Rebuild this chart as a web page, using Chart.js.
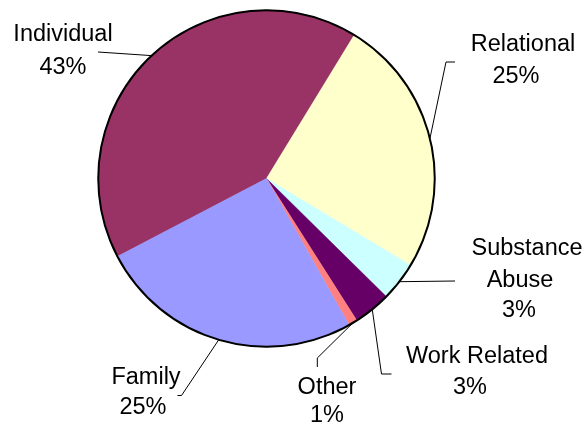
<!DOCTYPE html>
<html>
<head>
<meta charset="utf-8">
<script src="https://cdn.jsdelivr.net/npm/chart.js@4"></script>
<style>
  html, body { margin: 0; padding: 0; background: #ffffff; }
  #wrap { width: 586px; height: 427px; position: relative; }
</style>
</head>
<body>
<div id="wrap"><canvas id="c" width="586" height="427"></canvas></div>
<script>
// ---- data ----
const categories = ["Individual", "Relational", "Substance Abuse", "Work Related", "Other", "Family"];
const shares = [41.4, 24.9, 3.75, 3.6, 0.85, 25.5];          // slice sizes
const percentLabels = ["43%", "25%", "3%", "3%", "1%", "25%"]; // printed labels
const labelLines = [["Individual"], ["Relational"], ["Substance", "Abuse"], ["Work Related"], ["Other"], ["Family"]];

// ---- styling / layout ----
const colors = ["#993366", "#FFFFCC", "#CCFFFF", "#660066", "#FF8080", "#9999FF"];
// label text line centres (x, y) and leader elbow points
const labelLayout = [
  { lines: [[63, 35], [63, 68]],             leader: [[98, 52]] },
  { lines: [[523, 45], [516, 77]],           leader: [[446, 62], [455, 62]] },
  { lines: [[527, 249], [520, 281], [519, 311]], leader: [[455, 281]] },
  { lines: [[477, 357], [470, 388]],         leader: [[381.5, 374], [391.5, 374]] },
  { lines: [[327, 388], [327, 416]],         leader: [[317.3, 358], [317.3, 367]] },
  { lines: [[146, 378], [143, 408]],         leader: [[181.5, 395.5], [177.5, 395.5]] }
];

const labelPlugin = {
  id: 'pieLabels',
  afterDatasetsDraw(chart) {
    const ctx = chart.ctx;
    const meta = chart.getDatasetMeta(0);
    const first = meta.data[0];
    // outer outline
    ctx.save();
    ctx.beginPath();
    ctx.arc(first.x, first.y, first.outerRadius, 0, Math.PI * 2);
    ctx.lineWidth = 2;
    ctx.strokeStyle = '#000';
    ctx.stroke();
    ctx.restore();

    ctx.save();
    ctx.font = '23.5px "Liberation Sans", Arial, sans-serif';
    ctx.fillStyle = '#000';
    ctx.textAlign = 'center';
    ctx.textBaseline = 'middle';
    meta.data.forEach((arc, i) => {
      const mid = (arc.startAngle + arc.endAngle) / 2;
      const px = arc.x + Math.cos(mid) * arc.outerRadius;
      const py = arc.y + Math.sin(mid) * arc.outerRadius;
      const lay = labelLayout[i];
      ctx.beginPath();
      ctx.moveTo(px, py);
      lay.leader.forEach(p => ctx.lineTo(p[0], p[1]));
      ctx.lineWidth = 1;
      ctx.strokeStyle = '#000';
      ctx.stroke();
      const texts = labelLines[i].concat([percentLabels[i]]);
      texts.forEach((t, k) => {
        ctx.fillText(t, lay.lines[k][0], lay.lines[k][1]);
      });
    });
    ctx.restore();
  }
};

new Chart(document.getElementById('c'), {
  type: 'pie',
  data: {
    labels: categories,
    datasets: [{
      data: shares,
      backgroundColor: colors,
      borderColor: colors,
      borderWidth: 0.5
    }]
  },
  options: {
    responsive: false,
    animation: false,
    rotation: 242.4,
    layout: { padding: { left: 98, right: 151, top: 10, bottom: 80 } },
    plugins: {
      legend: { display: false },
      tooltip: { enabled: false }
    }
  },
  plugins: [labelPlugin]
});
</script>
</body>
</html>
